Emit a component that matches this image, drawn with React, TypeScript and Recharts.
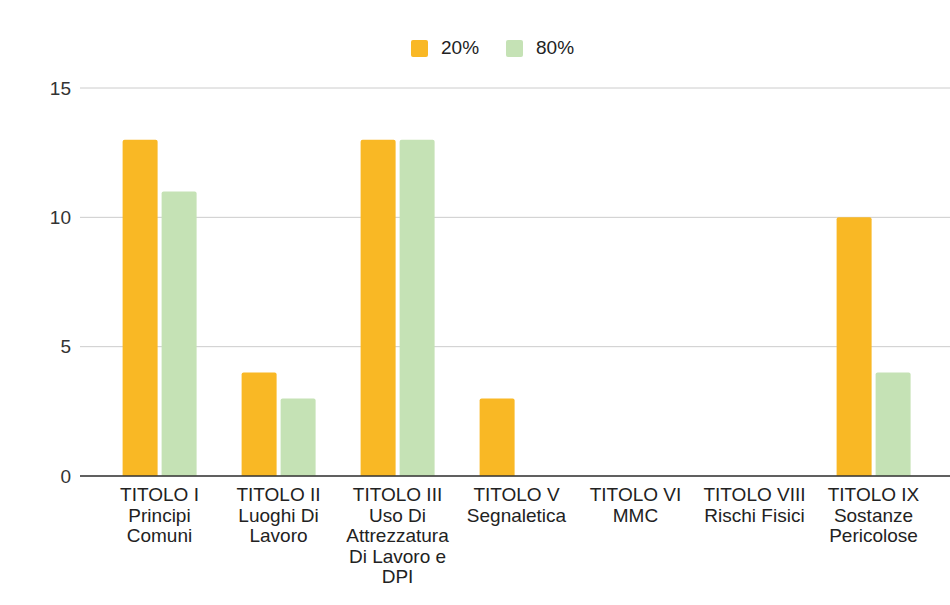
import { BarChart, Bar, XAxis, YAxis, CartesianGrid, Legend } from "recharts";

const categories = [
  "TITOLO I Principi Comuni",
  "TITOLO II Luoghi Di Lavoro",
  "TITOLO III Uso Di Attrezzatura Di Lavoro e DPI",
  "TITOLO V Segnaletica",
  "TITOLO VI MMC",
  "TITOLO VIII Rischi Fisici",
  "TITOLO IX Sostanze Pericolose",
];

// wrapped tick label lines, same order as categories
const tickLines = [
  ["TITOLO I", "Principi", "Comuni"],
  ["TITOLO II", "Luoghi Di", "Lavoro"],
  ["TITOLO III", "Uso Di", "Attrezzatura", "Di Lavoro e", "DPI"],
  ["TITOLO V", "Segnaletica"],
  ["TITOLO VI", "MMC"],
  ["TITOLO VIII", "Rischi Fisici"],
  ["TITOLO IX", "Sostanze", "Pericolose"],
];

const values20 = [13, 4, 13, 3, 0, 0, 10];
const values80 = [11, 3, 13, 0, 0, 0, 4];
const yTicks = [0, 5, 10, 15];

const FONT = "'Liberation Sans', Arial, sans-serif";

const data = categories.map((name, i) => ({
  name,
  v20: values20[i],
  v80: values80[i],
}));

function CategoryTick({ x, y, payload }: any) {
  const idx = categories.indexOf(payload.value);
  const lines = idx >= 0 ? tickLines[idx] : [payload.value];
  return (
    <text x={x} y={y} textAnchor="middle" fill="#222" fontSize={19} fontFamily={FONT}>
      {lines.map((l, i) => (
        <tspan key={i} x={x} dy={i === 0 ? 17 : 20.5}>
          {l}
        </tspan>
      ))}
    </text>
  );
}

function LegendContent({ payload }: any) {
  return (
    <div
      style={{
        display: "flex",
        alignItems: "center",
        height: 22,
        paddingLeft: 411,
        fontFamily: FONT,
        fontSize: 19,
        color: "#222",
      }}
    >
      {(payload || []).map((p: any, i: number) => (
        <div key={i} style={{ display: "flex", alignItems: "center", marginRight: 27 }}>
          <span
            style={{
              width: 17,
              height: 17,
              background: p.color,
              borderRadius: 2,
              display: "inline-block",
              marginRight: 13,
            }}
          />
          <span>{p.value}</span>
        </div>
      ))}
    </div>
  );
}

export default function App() {
  return (
    <div style={{ position: "absolute", left: 0, top: 0, background: "#fff" }}>
      <BarChart
        width={950}
        height={605}
        data={data}
        margin={{ top: 66, right: 0, bottom: 9, left: 0 }}
        barCategoryGap="19%"
        barGap={4}
      >
        <CartesianGrid vertical={false} stroke="#cccccc" />
        <XAxis
          dataKey="name"
          interval={0}
          height={120}
          tickLine={false}
          axisLine={{ stroke: "#333333", strokeWidth: 1.5 }}
          padding={{ left: 20, right: 17 }}
          tick={<CategoryTick />}
        />
        <YAxis
          width={80}
          domain={[0, 15]}
          ticks={yTicks}
          axisLine={false}
          tickLine={false}
          tickMargin={3}
          tick={{ fill: "#333", fontSize: 19, fontFamily: FONT }}
        />
        <Legend
          verticalAlign="top"
          align="left"
          content={<LegendContent />}
          wrapperStyle={{ top: 37, left: 0, width: 950 }}
        />
        <Bar dataKey="v20" name="20%" fill="#F9B825" radius={[2, 2, 0, 0]} isAnimationActive={false} />
        <Bar dataKey="v80" name="80%" fill="#C5E2B5" radius={[2, 2, 0, 0]} isAnimationActive={false} />
      </BarChart>
    </div>
  );
}
